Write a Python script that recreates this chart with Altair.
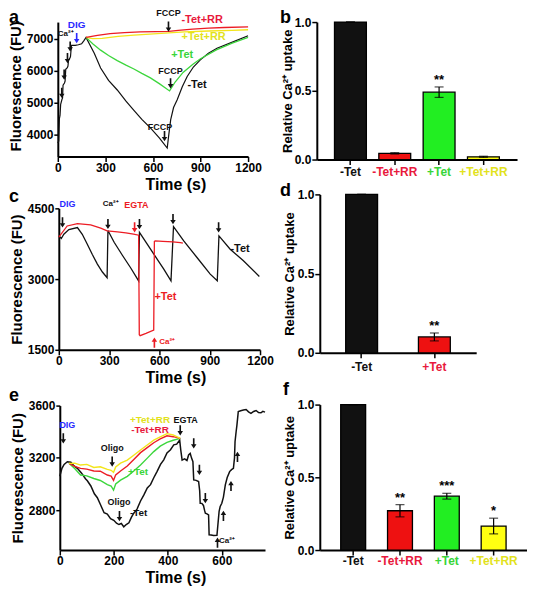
import altair as alt
import pandas as pd

FONT = "Liberation Sans Narrow, Liberation Sans, Arial, sans-serif"
BLACK = "#111111"
RED = "#ec1c24"
GREEN = "#3cd63c"
YELLOW = "#f3e51b"
BLUE = "#2a2aff"
LBL_RED = "#e8193c"
LBL_GREEN = "#39d539"
LBL_YELLOW = "#e2e21c"

DOWN = "M-0.08,-1L0.08,-1L0.08,-0.42L0.27,-0.42L0,0L-0.27,-0.42L-0.08,-0.42Z"
UP = "M-0.08,1L0.08,1L0.08,0.42L0.27,0.42L0,0L-0.27,0.42L-0.08,0.42Z"

# ---------------- panel a ----------------
a_black_t = [0, 6, 10, 14, 18, 26, 30, 33, 42, 46, 50, 60, 64, 68, 76, 80, 86, 110, 130, 150, 165, 178,
             230, 270, 320, 375, 430, 480, 530, 584, 640, 690,
             700, 712, 730, 753, 785, 816, 855, 899, 950, 1004, 1109, 1200]
a_black_v = [3740, 3800, 4500, 4600, 4950, 5100, 5150, 5550, 5620, 5680, 6050, 6100, 6150, 6350, 6400, 6450, 6800, 6800, 6820, 6850, 6950, 7050,
             6550, 6090, 5700, 5400, 5050, 4760, 4480, 4210, 3900, 3580,
             4000, 4470, 4850, 5094, 5500, 5822, 6120, 6344, 6550, 6708, 6917, 7100]
a_green_t = [178, 220, 270, 320, 375, 430, 480, 530, 584, 640, 705, 740, 790, 850, 900, 1000, 1100, 1200]
a_green_v = [7050, 6850, 6650, 6480, 6320, 6180, 6060, 5920, 5780, 5600, 5370, 5650, 5950, 6200, 6380, 6660, 6870, 7050]
a_red_t = [178, 250, 330, 420, 520, 620, 700, 760, 850, 950, 1050, 1200]
a_red_v = [7050, 7110, 7170, 7200, 7220, 7230, 7240, 7270, 7310, 7340, 7360, 7380]
a_yel_t = [178, 220, 280, 380, 480, 580, 700, 800, 950, 1100, 1200]
a_yel_v = [7050, 7010, 7020, 7080, 7120, 7150, 7190, 7220, 7250, 7270, 7290]

a_arrow_t = [25, 40, 61, 78, 698, 711, 673]
a_arrow_v = [5147, 5719, 6240, 6604, 7225, 5450, 3790]
a_small_t = [698, 711, 644]
a_small_v = [7810, 5980, 4240]
a_small_s = ["FCCP", "FCCP", "FCCP"]
a_lbl_t = [910, 920, 784, 878]
a_lbl_v = [7594, 7072, 6500, 5563]
a_lbl_s = ["-Tet+RR", "+Tet+RR", "+Tet", "-Tet"]
a_lbl_c = [LBL_RED, LBL_YELLOW, LBL_GREEN, BLACK]

# ---------------- panel c ----------------
c_black_t = [0, 15, 30, 60, 111, 140, 170, 200, 230, 260, 288, 293, 330, 380, 430, 476, 481, 547, 626, 669,
             684, 745, 824, 903, 945, 955, 1022, 1101, 1196]
c_black_v = [3915, 3860, 3950, 4050, 4092, 3950, 3739, 3520, 3317, 3150, 3030, 4030, 3780, 3500, 3230, 2960, 3990, 3634, 3211, 2964,
             4113, 3810, 3458, 3105, 2964, 3915, 3634, 3387, 3056]
c_red_t = [0, 50, 111, 190, 250, 288, 350, 400, 446, 476, 480, 485, 520, 566, 570, 575, 620, 680, 725, 740]
c_red_v = [3890, 4126, 4176, 4150, 4080, 4021, 4000, 3980, 3951, 3930, 1820, 1800, 1850, 1920, 3800, 3810, 3800, 3790, 3775, 3760]
c_arrow_t = [22, 293, 481, 681, 953]
c_arrow_v = [4092, 4060, 4056, 4162, 3986]

# ---------------- panel e ----------------
e_black_t = [0, 8, 16, 28, 41, 52, 65, 80, 95, 102, 115, 128, 139, 150, 164, 176, 188, 200, 210, 219, 228, 237, 246, 256,
             265, 274, 286, 299, 311, 324, 336, 348, 360, 373, 385, 397, 410, 422, 433, 444, 448, 453, 462, 471, 477,
             483, 488, 493, 496, 505, 514, 518, 520, 526, 532, 536, 539, 545, 551, 553, 560, 570, 582, 586, 590, 594,
             600, 606, 613, 620, 629, 636, 643, 647, 649, 653, 656, 661, 670, 680, 690, 699, 708, 718, 727, 736, 745, 752, 760]
e_black_v = [3059, 3120, 3150, 3170, 3166, 3140, 3120, 3085, 3040, 3025, 2985, 2925, 2895, 2845, 2780, 2770, 2735, 2722, 2700, 2690,
             2698, 2672, 2690, 2703, 2745, 2777, 2808, 2870, 2915, 2970, 2995, 3048, 3095, 3150, 3185, 3238, 3262, 3300,
             3305, 3336, 3260, 3183, 3192, 3180, 3222, 3234, 3198, 3171, 3031, 3028, 3019, 2950, 2853, 2852, 2836, 2800,
             2777, 2772, 2764, 2612, 2610, 2606, 2607, 2700, 2790, 2828, 2853, 2900, 2993, 3050, 3095, 3110, 3120, 3200,
             3323, 3400, 3450, 3554, 3560, 3566, 3570, 3552, 3540, 3555, 3562, 3546, 3545, 3556, 3550]
e_col_t = [34, 55, 77, 100, 126, 150, 176, 190, 199, 207, 225, 250, 275, 299, 325, 348, 372, 397, 420, 446]
e_yel_v = [3158, 3160, 3145, 3150, 3127, 3132, 3112, 3105, 3090, 3130, 3160, 3183, 3222, 3260, 3300, 3336, 3360, 3385, 3375, 3349]
e_red_v = [3158, 3135, 3120, 3114, 3100, 3098, 3069, 3060, 3028, 3070, 3100, 3138, 3190, 3240, 3280, 3316, 3345, 3369, 3362, 3349]
e_grn_v = [3158, 3118, 3069, 3062, 3042, 3027, 2995, 2985, 2953, 3000, 3030, 3059, 3102, 3145, 3200, 3248, 3290, 3318, 3335, 3349]
e_down_t = [13, 194, 221, 446, 496, 517, 539]
e_down_v = [3310, 3133, 2715, 3372, 3272, 3069, 2853]
e_up_t = [584, 606, 634, 658]
e_up_v = [2590, 2795, 3024, 3247]

# ---------------- bar panels ----------------
b_cats = ["-Tet", "-Tet+RR", "+Tet", "+Tet+RR"]
b_vals = [1.0, 0.045, 0.49, 0.02]
b_errs = [0.0, 0.005, 0.038, 0.004]
b_star = ["", "", "**", ""]
d_cats = ["-Tet", "+Tet"]
d_vals = [1.0, 0.10]
d_errs = [0.0, 0.025]
d_star = ["", "**"]
f_cats = ["-Tet", "-Tet+RR", "+Tet", "+Tet+RR"]
f_vals = [1.0, 0.27, 0.37, 0.165]
f_errs = [0.0, 0.042, 0.02, 0.054]
f_star = ["", "**", "***", "*"]

BAR_FILL4 = [BLACK, "#ee1111", "#22ee22", "#ffff11"]
BAR_LBL4 = [BLACK, LBL_RED, LBL_GREEN, LBL_YELLOW]
BAR_FILL2 = [BLACK, "#ee1111"]
BAR_LBL2 = [BLACK, LBL_RED]


class Panel:
    def __init__(self, xs, ys, xvals, yvals, xoff=0, yoff=0, ytitle_y=None):
        self.xs, self.ys = xs, ys
        yax = dict(values=yvals, title="Fluorescence (FU)", titleFontSize=15, titleX=-42,
                   titleAngle=270, titleBaseline="middle", tickSize=4, labelPadding=1,
                   labelFlush=False, labelOverlap=False, format="d", offset=yoff)
        if ytitle_y is not None:
            yax["titleY"] = ytitle_y
        self.yaxis = alt.Axis(**yax)
        self.xaxis = alt.Axis(values=xvals, title="Time (s)", titleFontSize=16,
                              titleX=118, titleY=20, titleBaseline="top",
                              tickSize=5, labelPadding=1, labelFlush=False,
                              labelOverlap=False, format="d", offset=xoff)

    def X(self):
        return alt.X("t:Q", scale=self.xs, axis=self.xaxis)

    def Y(self):
        return alt.Y("v:Q", scale=self.ys, axis=self.yaxis)

    def line(self, ts, vs, color, width=1.3):
        df = pd.DataFrame({"t": ts, "v": vs, "i": list(range(len(ts)))})
        return alt.Chart(df).mark_line(color=color, strokeWidth=width).encode(
            x=self.X(), y=self.Y(), order="i:Q")

    def arrows(self, ts, vs, color, shape, size=420):
        df = pd.DataFrame({"t": ts, "v": vs})
        return alt.Chart(df).mark_point(shape=shape, filled=True, size=size, color=color,
                                        opacity=1, strokeWidth=0).encode(x=self.X(), y=self.Y())

    def texts(self, ts, vs, labels, colors, size, weight="bold"):
        df = pd.DataFrame({"t": ts, "v": vs, "s": labels, "c": colors})
        return alt.Chart(df).mark_text(fontSize=size, fontWeight=weight, baseline="middle").encode(
            x=self.X(), y=self.Y(), text="s:N", color=alt.Color("c:N", scale=None))


def letter(ch, dx, dy):
    return alt.Chart(pd.DataFrame({"L": [ch]})).mark_text(
        align="left", baseline="alphabetic", fontSize=18, fontWeight="bold", color="black").encode(
        text="L:N", x=alt.value(dx), y=alt.value(dy))


# ---- a ----
pa = Panel(alt.Scale(domain=[0, 1200], nice=False, zero=False),
           alt.Scale(domain=[3312, 7531], nice=False, zero=False),
           [0, 300, 600, 900, 1200], [4000, 5000, 6000, 7000], ytitle_y=64)
panel_a = alt.layer(
    pa.line(a_black_t, a_black_v, BLACK, 1.2),
    pa.line(a_green_t, a_green_v, GREEN),
    pa.line(a_yel_t, a_yel_v, YELLOW),
    pa.line(a_red_t, a_red_v, RED),
    pa.arrows(a_arrow_t, a_arrow_v, BLACK, DOWN),
    pa.arrows([119], [6866], BLUE, DOWN),
    pa.texts(a_small_t, a_small_v, a_small_s, [BLACK] * 3, 9),
    pa.texts([50], [7147], ["Ca²⁺"], [BLACK], 8),
    pa.texts([119], [7437], ["DIG"], [BLUE], 10),
    pa.texts(a_lbl_t, a_lbl_v, a_lbl_s, a_lbl_c, 11),
    letter("a", -49, 1),
).properties(width=191, height=135)

# ---- c ----
pc = Panel(alt.Scale(domain=[0, 1200], range=[1, 203], nice=False, zero=False),
           alt.Scale(domain=[1500, 4500], range=[156, 14], nice=False, zero=False),
           [0, 300, 600, 900, 1200], [1500, 3000, 4500], yoff=-1)
panel_c = alt.layer(
    pc.line(c_black_t, c_black_v, BLACK, 1.3),
    pc.line(c_red_t, c_red_v, RED, 1.3),
    pc.arrows(c_arrow_t, c_arrow_v, BLACK, DOWN),
    pc.arrows([452], [3990], RED, DOWN),
    pc.arrows([570], [1760], RED, UP),
    pc.texts([52], [4585], ["DIG"], [BLUE], 9),
    pc.texts([309], [4585], ["Ca²⁺"], [BLACK], 8),
    pc.texts([463], [4563], ["EGTA"], [RED], 9),
    pc.texts([646], [1662], ["Ca²⁺"], [RED], 8),
    pc.texts([1081, 636], [3634, 2613], ["-Tet", "+Tet"], [BLACK, RED], 11),
    letter("c", -49, 8),
).properties(width=203, height=156)

# ---- e ----
pe = Panel(alt.Scale(domain=[0, 760], range=[2, 208], nice=False, zero=False),
           alt.Scale(domain=[2495, 3600], range=[163, 18], nice=False, zero=False),
           [0, 200, 400, 600], [2800, 3200, 3600], yoff=-2)
panel_e = alt.layer(
    pe.line(e_black_t, e_black_v, BLACK, 1.5),
    pe.line(e_col_t, e_grn_v, GREEN, 1.4),
    pe.line(e_col_t, e_red_v, RED, 1.4),
    pe.line(e_col_t, e_yel_v, YELLOW, 1.4),
    pe.arrows(e_down_t, e_down_v, BLACK, DOWN),
    pe.arrows(e_up_t, e_up_v, BLACK, UP),
    pe.texts([28], [3450], ["DIG"], [BLUE], 9),
    pe.texts([194, 219, 466], [3272, 2859, 3493], ["Oligo", "Oligo", "EGTA"], [BLACK] * 3, 9),
    pe.texts([619], [2562], ["Ca²⁺"], [BLACK], 8),
    pe.texts([334, 334, 290, 292], [3492, 3410, 3089, 2777], ["+Tet+RR", "-Tet+RR", "+Tet", "-Tet"],
             [LBL_YELLOW, LBL_RED, LBL_GREEN, BLACK], 10),
    letter("e", -49, 13),
).properties(width=208, height=163)


def bar_panel(cats, vals, errs, stars, fills, lcolors, width, height, xrange, yrange,
              pinner, pouter, yoff, title_x, ch, lx, ly, label_y):
    df = pd.DataFrame({"cat": cats, "val": vals,
                       "lo": [v - e for v, e in zip(vals, errs)],
                       "hi": [v + e for v, e in zip(vals, errs)],
                       "star": stars, "fill": fills, "lc": lcolors})
    xs = alt.Scale(domain=cats, range=xrange, paddingInner=pinner, paddingOuter=pouter)
    ys = alt.Scale(domain=[0, 1], range=yrange, nice=False, zero=False)
    xaxis = alt.Axis(labels=False, title=None, ticks=True, tickSize=5)
    yaxis = alt.Axis(values=[0, 0.5, 1.0], format=".1f", title="Relative Ca²⁺ uptake",
                     titleFontSize=13, titleX=title_x, titleAngle=270, titleBaseline="middle",
                     tickSize=5, labelPadding=1, labelFlush=False, offset=yoff)

    def X():
        return alt.X("cat:N", scale=xs, sort=cats, axis=xaxis)

    def Y(f):
        return alt.Y(f, scale=ys, axis=yaxis)

    base = alt.Chart(df)
    bars = base.mark_bar(stroke="black", strokeWidth=1.3).encode(
        x=X(), y=Y("val:Q"), fill=alt.Fill("fill:N", scale=None))
    err = base.mark_rule(color="black", strokeWidth=1.2).encode(x=X(), y=Y("lo:Q"), y2="hi:Q")
    cap_hi = base.mark_tick(color="black", thickness=1.2, size=9).encode(x=X(), y=Y("hi:Q"))
    cap_lo = base.mark_tick(color="black", thickness=1.2, size=9).encode(x=X(), y=Y("lo:Q"))
    st = base.mark_text(fontSize=13, fontWeight="bold", baseline="alphabetic", dy=-3, color="black").encode(
        x=X(), y=Y("hi:Q"), text="star:N")
    lbl = base.mark_text(fontSize=12, fontWeight="bold", baseline="middle").encode(
        x=X(), y=alt.value(label_y), text="cat:N", color=alt.Color("lc:N", scale=None))
    return alt.layer(bars, err, cap_hi, cap_lo, st, lbl, letter(ch, lx, ly)).properties(
        width=width, height=height)


panel_b = bar_panel(b_cats, b_vals, b_errs, b_star, BAR_FILL4, BAR_LBL4, 201, 138, [0, 201], [138, 0],
                    0.281, 0.399, 0, -29, "b", -37, 1, 151)
panel_d = bar_panel(d_cats, d_vals, d_errs, d_star, BAR_FILL2, BAR_LBL2, 160, 159, [3, 160], [159, 0],
                    0.562, 0.356, -3, -30, "d", -37, 2, 173)
panel_f = bar_panel(f_cats, f_vals, f_errs, f_star, BAR_FILL4, BAR_LBL4, 211, 163, [3, 211], [163, 17],
                    0.468, 0.447, -3, -30, "f", -34, 7, 174)

chart = alt.concat(panel_a, panel_b, panel_c, panel_d, panel_e, panel_f, columns=2,
                   spacing={"row": 35, "column": 52}, bounds="flush").properties(
    padding={"left": 0, "top": 0, "right": 0, "bottom": 0}
).configure(font=FONT).configure_view(stroke=None).configure_axis(
    grid=False, domainColor="black", domainWidth=2, tickColor="black", tickWidth=1.5,
    labelFont=FONT, labelFontSize=12, labelFontWeight="bold", labelColor="black",
    titleFont=FONT, titleFontWeight="bold", titleColor="black")

chart.save("out.html", embed_options={"renderer": "svg", "actions": False})
